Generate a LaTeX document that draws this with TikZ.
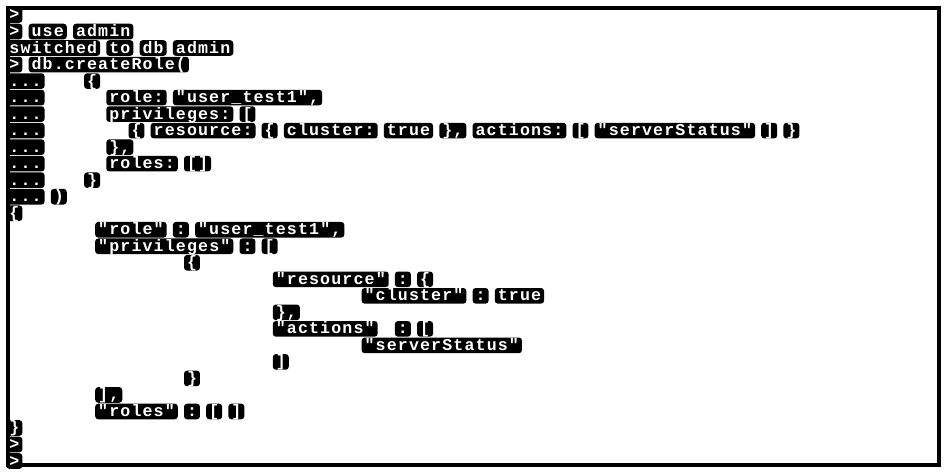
\documentclass[tikz,border=0pt]{standalone}
\usepackage{fontspec}
\newfontfamily\termfont[LetterSpace=6.9]{Liberation Mono}

\begin{document}
\begin{tikzpicture}[
x=0.5pt,
y=-0.5pt,
tok/.style={
  fill=black,
  text=white,
  rounded corners=1.5pt,
  anchor=west,
  inner xsep=1.5pt,
  inner ysep=0.1pt,
  text height=6.3pt,
  text depth=1.3pt,
  font=\termfont\bfseries\fontsize{8.3}{8.3}\selectfont
  },
frame/.style={
  draw,
  line width=2pt
  }
]
\useasboundingbox (0,0) rectangle (944,474);
\draw[frame] (8,8.5) rectangle (938.5,465.5);
% prompts
\foreach \row in {1,2,4,27,28}
  \node[tok] (t-\row-0) at (6, 15+16.52*\row-16.52) {>};
\foreach \row in {5,6,...,12}
  \node[tok] (t-\row-0) at (6, 15+16.52*\row-16.52) {...};
% tokens: row/column/text
\foreach \row/\col/\txt in {
  2/2/use, 2/6/admin,
  3/0/switched, 3/9/to, 3/12/db, 3/15/admin,
  4/2/db.createRole(,
  5/7/\{,
  6/9/role:, 6/15/{"user\_test1",},
  7/9/privileges:, 7/21/[,
  8/11/\{, 8/13/resource:, 8/23/\{, 8/25/cluster:, 8/34/true, 8/39/{\},},
  8/42/actions:, 8/51/[, 8/53/"serverStatus", 8/68/], 8/70/\},
  9/9/{\},},
  10/9/roles:, 10/16/[],
  11/7/\},
  12/4/),
  13/0/\{,
  14/8/"role", 14/15/:, 14/17/{"user\_test1",},
  15/8/"privileges", 15/21/:, 15/23/[,
  16/16/\{,
  17/24/"resource", 17/35/:, 17/37/\{,
  18/32/"cluster", 18/42/:, 18/44/true,
  19/24/{\},},
  20/24/"actions", 20/35/:, 20/37/[,
  21/32/"serverStatus",
  22/24/],
  23/16/\},
  24/8/{],},
  25/8/"roles", 25/16/:, 25/18/[, 25/20/],
  26/0/\}}
  \node[tok] (t-\row-\col) at (6+11.1*\col, 15+16.52*\row-16.52) {\txt};
\end{tikzpicture}
\end{document}
